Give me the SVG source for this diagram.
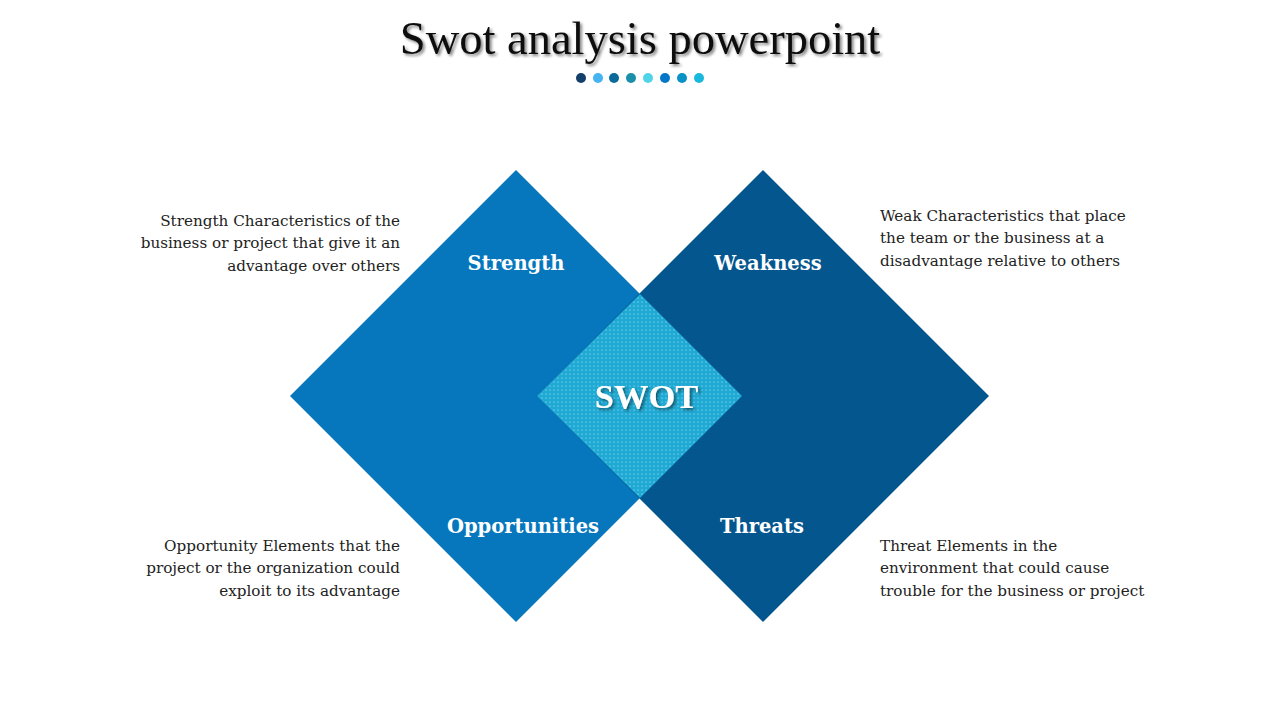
<svg xmlns="http://www.w3.org/2000/svg" width="1280" height="720" viewBox="0 0 1280 720">
<defs>
<style>
.title{font-family:"Liberation Serif","DejaVu Serif",serif;font-size:46.5px;fill:#111}
.body{font-family:"DejaVu Serif","Liberation Serif",serif;font-size:15.2px;fill:#222}
.lbl{font-family:"DejaVu Serif","Liberation Serif",serif;font-size:19.5px;font-weight:bold;fill:#fff;text-anchor:middle}
.swot{font-family:"Liberation Serif","DejaVu Serif",serif;font-size:34.5px;font-weight:bold;fill:#fff;text-anchor:middle}
</style>
<filter id="sh" x="-10%" y="-20%" width="120%" height="150%">
<feGaussianBlur in="SourceAlpha" stdDeviation="1.5"/>
<feOffset dx="2" dy="2" result="b"/>
<feComponentTransfer><feFuncA type="linear" slope="0.5"/></feComponentTransfer>
<feMerge><feMergeNode/><feMergeNode in="SourceGraphic"/></feMerge>
</filter>
<pattern id="dots" width="4" height="4" patternUnits="userSpaceOnUse">
<rect width="4" height="4" fill="#1eaad4"/>
<circle cx="2" cy="2" r="0.6" fill="#ffffff" fill-opacity="0.75"/>
</pattern>
</defs>
<rect width="1280" height="720" fill="#fff"/>
<text class="title" x="640" y="54" text-anchor="middle" filter="url(#sh)">Swot analysis powerpoint</text>
<g id="dots-row">
<circle cx="581" cy="78" r="5" fill="#143f6a"/>
<circle cx="598" cy="78" r="5" fill="#45b4f0"/>
<circle cx="614" cy="78" r="5" fill="#0a6a9a"/>
<circle cx="631" cy="78" r="5" fill="#1a8faa"/>
<circle cx="648" cy="78" r="5" fill="#50d4e8"/>
<circle cx="665" cy="78" r="5" fill="#0477c8"/>
<circle cx="682" cy="78" r="5" fill="#0892c8"/>
<circle cx="699" cy="78" r="5" fill="#1ab8dc"/>
</g>
<g id="strength">
<polygon points="516,170 742,396 516,622 290,396" fill="#0677bd"/>
<text class="lbl" x="516" y="270">Strength</text>
</g>
<g id="weakness">
<polygon points="763,170 989,396 763,622 537,396" fill="#04568e"/>
<text class="lbl" x="768" y="270">Weakness</text>
</g>
<g id="swot">
<polygon points="640,294 742,396 640,498 537,396" fill="url(#dots)"/>
<text class="swot" x="646.5" y="408" filter="url(#sh)">SWOT</text>
</g>
<g id="opportunities"><text class="lbl" x="523" y="533">Opportunities</text></g>
<g id="threats"><text class="lbl" x="762" y="533">Threats</text></g>
<g id="connectors"></g>
<g id="desc-s">
<text class="body" x="400" y="226" text-anchor="end">Strength Characteristics of the</text>
<text class="body" x="400" y="248" text-anchor="end">business or project that give it an</text>
<text class="body" x="400" y="271" text-anchor="end">advantage over others</text>
</g>
<g id="desc-w">
<text class="body" x="880" y="220.5">Weak Characteristics that place</text>
<text class="body" x="880" y="243">the team or the business at a</text>
<text class="body" x="880" y="265.5">disadvantage relative to others</text>
</g>
<g id="desc-o">
<text class="body" x="400" y="550.5" text-anchor="end">Opportunity Elements that the</text>
<text class="body" x="400" y="573" text-anchor="end">project or the organization could</text>
<text class="body" x="400" y="595.5" text-anchor="end">exploit to its advantage</text>
</g>
<g id="desc-t">
<text class="body" x="880" y="550.5">Threat Elements in the</text>
<text class="body" x="880" y="573">environment that could cause</text>
<text class="body" x="880" y="595.5">trouble for the business or project</text>
</g>
</svg>
